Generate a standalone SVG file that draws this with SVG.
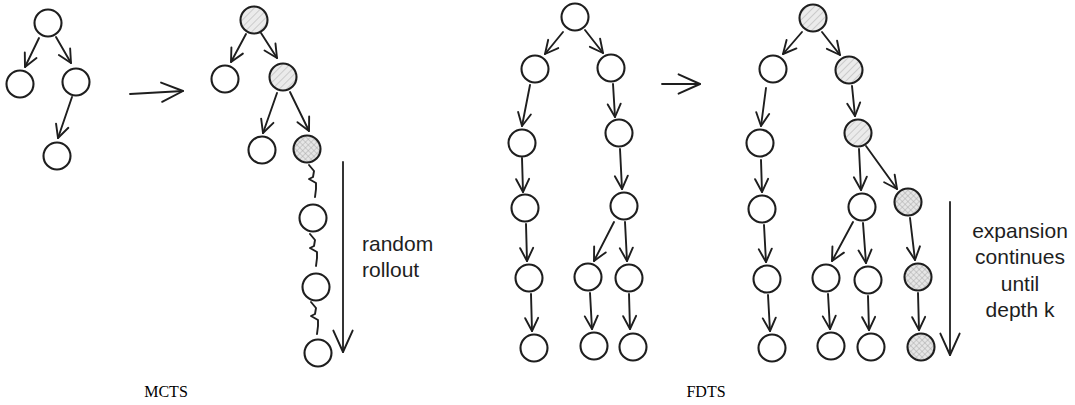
<svg xmlns="http://www.w3.org/2000/svg" width="1075" height="405" viewBox="0 0 1075 405">
<defs>
  <pattern id="hatch" patternUnits="userSpaceOnUse" width="5" height="5" patternTransform="rotate(45)">
    <rect width="5" height="5" fill="#ebebeb"/>
    <line x1="0" y1="0" x2="0" y2="5" stroke="#b0b0b0" stroke-width="1.1"/>
  </pattern>
  <pattern id="cross" patternUnits="userSpaceOnUse" width="4" height="4" patternTransform="rotate(45)">
    <rect width="4" height="4" fill="#e6e6e6"/>
    <line x1="0" y1="0" x2="0" y2="4" stroke="#a4a4a4" stroke-width="0.9"/>
    <line x1="0" y1="0" x2="4" y2="0" stroke="#a4a4a4" stroke-width="0.9"/>
  </pattern>
  <marker id="ah" markerUnits="userSpaceOnUse" markerWidth="18" markerHeight="18" viewBox="-15 -9 17 18" refX="0" refY="0" orient="auto">
    <path d="M-13,-6.5 L0,0 L-13,6.5" fill="none" stroke="#1e1e1e" stroke-width="1.9" stroke-linecap="round" stroke-linejoin="round"/>
  </marker>
  <marker id="bigah" markerUnits="userSpaceOnUse" markerWidth="30" markerHeight="30" viewBox="-22 -14 24 28" refX="0" refY="0" orient="auto">
    <path d="M-20,-9 L0,0 L-20,9" fill="none" stroke="#1e1e1e" stroke-width="1.8" stroke-linecap="round" stroke-linejoin="round"/>
  </marker>
</defs>
<style>
  .n { fill: #ffffff; stroke: #1e1e1e; stroke-width: 2.1; }
  .h { fill: url(#hatch); stroke: #1e1e1e; stroke-width: 2.1; }
  .x { fill: url(#cross); stroke: #1e1e1e; stroke-width: 2.1; }
  .e { stroke: #1e1e1e; stroke-width: 1.9; fill: none; stroke-linecap: round; marker-end: url(#ah); }
  .big { stroke: #1e1e1e; stroke-width: 1.8; fill: none; stroke-linecap: round; marker-end: url(#bigah); }
  .sq { stroke: #1e1e1e; stroke-width: 1.9; fill: none; stroke-linecap: round; stroke-linejoin: round; }
  .hand { font-family: "Liberation Sans", Arial, sans-serif; font-size: 21px; fill: #1e1e1e; }
  .cap { font-family: "Liberation Serif", "Times New Roman", serif; font-size: 16px; fill: #000; }
</style>
<rect width="1075" height="405" fill="#ffffff"/>

<g id="connectors">
  <!-- Tree A -->
  <line class="e" x1="39" y1="38" x2="25" y2="67"/>
  <line class="e" x1="56" y1="37" x2="71" y2="63"/>
  <line class="e" x1="72" y1="97" x2="58" y2="138"/>
  <line class="big" x1="130" y1="94" x2="183" y2="91"/>
  <!-- Tree B -->
  <line class="e" x1="246" y1="34" x2="231" y2="62"/>
  <line class="e" x1="261" y1="33" x2="277" y2="58"/>
  <line class="e" x1="277" y1="93" x2="263" y2="133"/>
  <line class="e" x1="290" y1="92" x2="309" y2="131"/>
  <path class="sq" d="M309,165 l5,6 l-1,6 l-4,2 l7,4 l0,6 l-1,8"/>
  <path class="sq" d="M310,234 l5,6 l-1,6 l-4,2 l7,4 l0,6 l-1,8"/>
  <path class="sq" d="M311,302 l5,6 l-1,6 l-4,2 l7,4 l0,6 l-1,8"/>
  <line class="big" x1="343" y1="162" x2="343" y2="352"/>
  <!-- Tree C -->
  <line class="e" x1="563" y1="32" x2="545" y2="54"/>
  <line class="e" x1="585" y1="30" x2="603" y2="53"/>
  <line class="e" x1="530" y1="85" x2="522" y2="126"/>
  <line class="e" x1="613" y1="84" x2="615" y2="117"/>
  <line class="e" x1="522" y1="158" x2="523" y2="192"/>
  <line class="e" x1="620" y1="149" x2="622" y2="189"/>
  <line class="e" x1="526" y1="224" x2="527" y2="261"/>
  <line class="e" x1="614" y1="222" x2="594" y2="261"/>
  <line class="e" x1="625" y1="222" x2="627" y2="261"/>
  <line class="e" x1="531" y1="294" x2="532" y2="331"/>
  <line class="e" x1="590" y1="293" x2="592" y2="329"/>
  <line class="e" x1="629" y1="294" x2="630" y2="329"/>
  <line class="big" x1="662" y1="84" x2="700" y2="84"/>
  <!-- Tree D -->
  <line class="e" x1="802" y1="32" x2="783" y2="54"/>
  <line class="e" x1="822" y1="32" x2="840" y2="55"/>
  <line class="e" x1="766" y1="88" x2="761" y2="126"/>
  <line class="e" x1="852" y1="86" x2="855" y2="116"/>
  <line class="e" x1="761" y1="160" x2="762" y2="192"/>
  <line class="e" x1="859" y1="149" x2="861" y2="190"/>
  <line class="e" x1="866" y1="146" x2="897" y2="189"/>
  <line class="e" x1="764" y1="225" x2="766" y2="262"/>
  <line class="e" x1="853" y1="222" x2="832" y2="261"/>
  <line class="e" x1="863" y1="223" x2="866" y2="263"/>
  <line class="e" x1="910" y1="218" x2="915" y2="260"/>
  <line class="e" x1="768" y1="295" x2="770" y2="331"/>
  <line class="e" x1="828" y1="294" x2="830" y2="329"/>
  <line class="e" x1="868" y1="296" x2="869" y2="330"/>
  <line class="e" x1="918" y1="293" x2="919" y2="330"/>
  <line class="big" x1="950" y1="202" x2="950" y2="355"/>
</g>

<!-- Tree A nodes -->
<g id="a-root"><circle class="n" cx="48" cy="23" r="13.5"/></g>
<g id="a-left"><circle class="n" cx="20" cy="84" r="13.5"/></g>
<g id="a-right"><circle class="n" cx="76" cy="82" r="13.5"/></g>
<g id="a-grand"><circle class="n" cx="57" cy="156" r="13.5"/></g>

<!-- Tree B nodes -->
<g id="b-root"><circle class="h" cx="254" cy="20" r="13.5"/></g>
<g id="b-left"><circle class="n" cx="225" cy="79" r="13.5"/></g>
<g id="b-right"><circle class="h" cx="283" cy="77" r="13.5"/></g>
<g id="b-gleft"><circle class="n" cx="262" cy="150" r="13.5"/></g>
<g id="b-gright"><circle class="x" cx="307" cy="149" r="13.5"/></g>
<g id="b-roll1"><circle class="n" cx="313" cy="218" r="13.5"/></g>
<g id="b-roll2"><circle class="n" cx="316" cy="287" r="13.5"/></g>
<g id="b-roll3"><circle class="n" cx="318" cy="353" r="13.5"/></g>

<!-- Tree C nodes -->
<g id="c-root"><circle class="n" cx="575" cy="17" r="13.5"/></g>
<g id="c-l1"><circle class="n" cx="535" cy="69" r="13.5"/></g>
<g id="c-r1"><circle class="n" cx="611" cy="68" r="13.5"/></g>
<g id="c-l2"><circle class="n" cx="522" cy="143" r="13.5"/></g>
<g id="c-r2"><circle class="n" cx="619" cy="133" r="13.5"/></g>
<g id="c-l3"><circle class="n" cx="525" cy="208" r="13.5"/></g>
<g id="c-r3"><circle class="n" cx="624" cy="206" r="13.5"/></g>
<g id="c-l4"><circle class="n" cx="529" cy="278" r="13.5"/></g>
<g id="c-m4"><circle class="n" cx="588" cy="277" r="13.5"/></g>
<g id="c-r4"><circle class="n" cx="629" cy="278" r="13.5"/></g>
<g id="c-l5"><circle class="n" cx="534" cy="348" r="13.5"/></g>
<g id="c-m5"><circle class="n" cx="594" cy="346" r="13.5"/></g>
<g id="c-r5"><circle class="n" cx="633" cy="347" r="13.5"/></g>

<!-- Tree D nodes -->
<g id="d-root"><circle class="h" cx="813" cy="18" r="13.5"/></g>
<g id="d-l1"><circle class="n" cx="773" cy="69" r="13.5"/></g>
<g id="d-r1"><circle class="h" cx="849" cy="70" r="13.5"/></g>
<g id="d-l2"><circle class="n" cx="760" cy="143" r="13.5"/></g>
<g id="d-r2"><circle class="h" cx="858" cy="133" r="13.5"/></g>
<g id="d-l3"><circle class="n" cx="762" cy="209" r="13.5"/></g>
<g id="d-m3"><circle class="n" cx="862" cy="207" r="13.5"/></g>
<g id="d-x3"><circle class="x" cx="908" cy="202" r="13.5"/></g>
<g id="d-l4"><circle class="n" cx="767" cy="279" r="13.5"/></g>
<g id="d-ml4"><circle class="n" cx="826" cy="278" r="13.5"/></g>
<g id="d-mr4"><circle class="n" cx="868" cy="280" r="13.5"/></g>
<g id="d-x4"><circle class="x" cx="918" cy="277" r="13.5"/></g>
<g id="d-l5"><circle class="n" cx="772" cy="348" r="13.5"/></g>
<g id="d-ml5"><circle class="n" cx="831" cy="346" r="13.5"/></g>
<g id="d-mr5"><circle class="n" cx="871" cy="347" r="13.5"/></g>
<g id="d-x5"><circle class="x" cx="921" cy="347" r="13.5"/></g>

<!-- Labels -->
<text class="hand" x="362" y="251">random</text>
<text class="hand" x="362" y="277">rollout</text>
<text class="hand" x="1020" y="238" text-anchor="middle">expansion</text>
<text class="hand" x="1020" y="264" text-anchor="middle">continues</text>
<text class="hand" x="1020" y="291" text-anchor="middle">until</text>
<text class="hand" x="1020" y="317" text-anchor="middle">depth k</text>
<text class="cap" x="166" y="397" text-anchor="middle">MCTS</text>
<text class="cap" x="706" y="397" text-anchor="middle">FDTS</text>
</svg>
